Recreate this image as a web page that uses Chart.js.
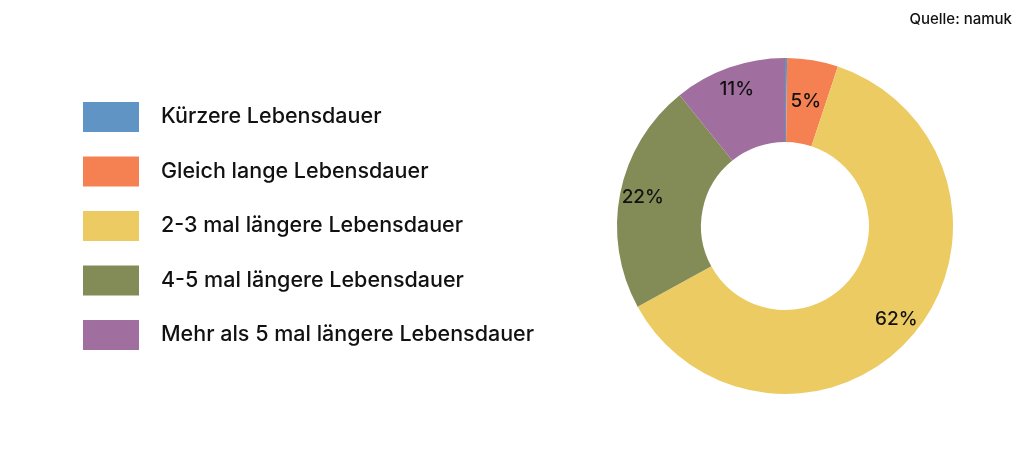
<!DOCTYPE html>
<html><head><meta charset="utf-8">
<script src="https://cdn.jsdelivr.net/npm/chart.js@4.4.1/dist/chart.umd.min.js"></script>
<style>
html,body{margin:0;padding:0;background:#fff;}
#wrap{position:relative;width:1024px;height:452px;}
#src{position:absolute;right:12px;top:9px;font:500 15px Inter,"Liberation Sans",sans-serif;color:#111;}
</style></head>
<body>
<div id="wrap"><canvas id="c" width="1024" height="452"></canvas><div id="src">Quelle: namuk</div></div>
<script>
const categories = ["Kürzere Lebensdauer","Gleich lange Lebensdauer","2-3 mal längere Lebensdauer","4-5 mal längere Lebensdauer","Mehr als 5 mal längere Lebensdauer"];
const values = [0.2, 4.9, 62, 22.2, 10.8];
const colors = ["#6094C4","#F58153","#EDCB63","#838C57","#A06F9F"];

const FONT = 'Inter, "Liberation Sans", sans-serif';

const legendPlugin = {
  id: 'sideLegend',
  afterDraw(chart) {
    const ctx = chart.ctx;
    ctx.save();
    const x0 = 83, boxW = 56, boxH = 30, y0 = 117, step = 54.5;
    chart.data.labels.forEach((lab, i) => {
      const cy = y0 + i * step;
      ctx.fillStyle = chart.data.datasets[0].backgroundColor[i];
      ctx.fillRect(x0, cy - boxH / 2, boxW, boxH);
      ctx.fillStyle = '#111';
      ctx.font = '500 21.5px ' + FONT;
      ctx.textBaseline = 'middle';
      ctx.textAlign = 'left';
      ctx.fillText(lab, 161, cy);
    });
    ctx.restore();
  }
};

const labelPlugin = {
  id: 'sliceLabels',
  afterDatasetsDraw(chart) {
    const ctx = chart.ctx;
    const meta = chart.getDatasetMeta(0);
    ctx.save();
    ctx.font = '500 19px ' + FONT;
    ctx.fillStyle = '#111';
    ctx.textAlign = 'center';
    ctx.textBaseline = 'middle';
    meta.data.forEach((arc, i) => {
      const v = chart.data.datasets[0].data[i];
      if (v < 1) return;
      const p = arc.getProps(['x','y','startAngle','endAngle','innerRadius','outerRadius'], true);
      const mid = (p.startAngle + p.endAngle) / 2;
      const r = v < 8 ? (p.innerRadius + p.outerRadius) / 2 : p.outerRadius - 23;
      ctx.fillText(Math.round(v) + '%', p.x + Math.cos(mid) * r, p.y + Math.sin(mid) * r);
    });
    ctx.restore();
  }
};

new Chart(document.getElementById('c'), {
  type: 'doughnut',
  data: {
    labels: categories,
    datasets: [{ data: values, backgroundColor: colors, borderWidth: 0, hoverOffset: 0 }]
  },
  options: {
    responsive: false,
    animation: false,
    cutout: '50%',
    layout: { padding: { left: 617, right: 71, top: 58, bottom: 58 } },
    plugins: { legend: { display: false }, tooltip: { enabled: false } }
  },
  plugins: [legendPlugin, labelPlugin]
});
</script>
</body></html>
